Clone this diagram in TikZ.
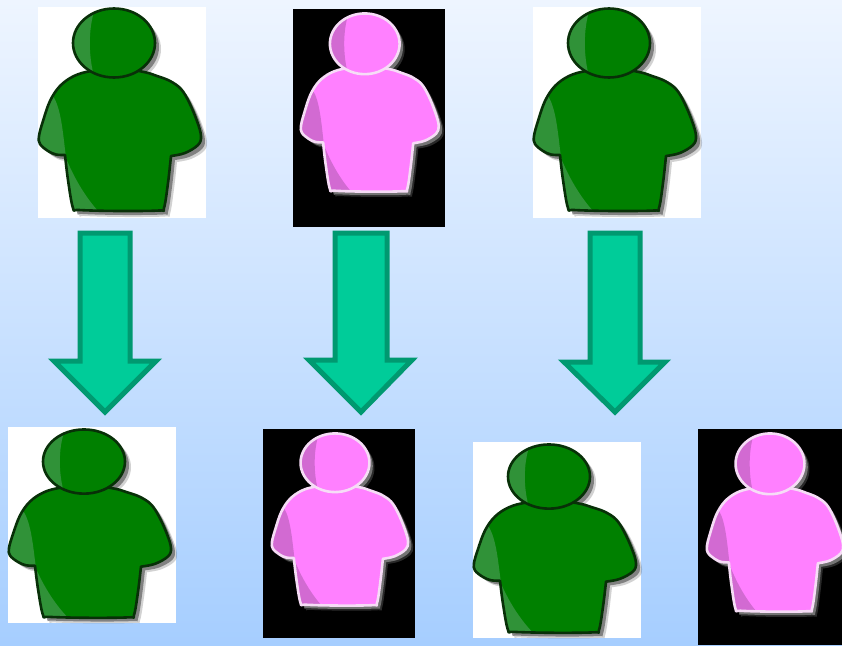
\documentclass[tikz,border=0pt]{standalone}
\usetikzlibrary{shadings}
\definecolor{bgtop}{RGB}{238,245,255}
\definecolor{bgbot}{RGB}{166,206,255}
\definecolor{gbody}{RGB}{0,128,0}
\definecolor{glight}{RGB}{48,146,56}
\definecolor{gline}{RGB}{8,48,8}
\definecolor{pbody}{RGB}{255,128,255}
\definecolor{plight}{RGB}{210,106,210}
\definecolor{pline}{RGB}{246,220,246}
\definecolor{arrowfill}{RGB}{0,204,153}
\definecolor{arrowline}{RGB}{0,153,112}
\tikzset{
  x=1pt,y=-1pt,
  whitebox/.style={fill=white,draw=none,inner sep=0pt,outer sep=0pt,anchor=north west},
  blackbox/.style={fill=black,draw=none,inner sep=0pt,outer sep=0pt,anchor=north west},
  downarrow/.style={fill=arrowfill,draw=arrowline,line width=5pt,miter limit=10},
}
\newcommand{\bodypath}{
  plot[smooth,tension=.6] coordinates {(26,147) (29,172) (34,200) (40,202) (80,203) (120,202.5) (125,200) (129,175) (132,148)}
  -- plot[smooth,tension=.6] coordinates {(132,148) (146,145) (159,137) (162,128) (158,113) (150,94) (142,81) (131,73) (118,68) (105,64) (78,60)
  (52,63) (35,68) (21,78) (11,93) (4,113) (0,128) (1,136) (9,143) (17,146.5) (26,147)} -- cycle}
\newcommand{\headpath}{(75,35) ellipse [x radius=41,y radius=34.5]}
% #1,#2 origin; #3,#4 scale; #5 body; #6 light; #7 outline; #8 shadow
\newcommand{\person}[8]{
  \begin{scope}[shift={(#1,#2)},xscale=#3,yscale=#4]
    \fill[#8,opacity=.25] [shift={(6,6)}] \bodypath;
    \fill[#8,opacity=.25] [shift={(6,6)}] \headpath;
    \fill[#8,opacity=.6] [shift={(4,4)}] \bodypath;
    \fill[#8,opacity=.6] [shift={(4,4)}] \headpath;
    \fill[#5] \bodypath;
    \begin{scope}
      \clip \bodypath;
      \fill[#6] (-2,75) -- (14,88) .. controls (22,100) and (24,125) .. (27,150) -- (-2,150) -- cycle;
      \fill[#6] (27,150) .. controls (35,170) and (47,190) .. (60,204) -- (30,206) -- cycle;
    \end{scope}
    \draw[#7,line width=2.6pt,line join=round] \bodypath;
    \fill[#5] \headpath;
    \begin{scope}
      \clip \headpath;
      \fill[#6] (57,-2) .. controls (50,15) and (48,45) .. (56,72) -- (30,72) -- (30,-2) -- cycle;
    \end{scope}
    \draw[#7,line width=2.6pt] \headpath;
  \end{scope}
}
\newcommand{\greenperson}[3]{\person{#1}{#2}{1}{#3}{gbody}{glight}{gline}{black!70}}
\newcommand{\pinkperson}[4]{\person{#1}{#2}{#3}{#4}{pbody}{plight}{pline}{white!65!black}}
\begin{document}
\begin{tikzpicture}
  \useasboundingbox (0,0) rectangle (842,645);
  \shade[top color=bgtop,bottom color=bgbot] (0,0) rectangle (842,645);

  \node[whitebox,minimum width=168pt,minimum height=211pt] (top1) at (38,7) {};
  \node[blackbox,minimum width=152pt,minimum height=218pt] (top2) at (293,9) {};
  \node[whitebox,minimum width=168pt,minimum height=211pt] (top3) at (533,7) {};
  \node[whitebox,minimum width=168pt,minimum height=196pt] (bot1) at (8,427) {};
  \node[blackbox,minimum width=152pt,minimum height=209pt] (bot2) at (263,429) {};
  \node[whitebox,minimum width=168pt,minimum height=196pt] (bot3) at (473,442) {};
  \node[blackbox,minimum width=144pt,minimum height=216pt] (bot4) at (698,429) {};

  \greenperson{39}{8}{1}
  \pinkperson{301}{13}{.85}{.88}
  \greenperson{534}{8}{1}
  \greenperson{9}{429}{.93}
  \pinkperson{272}{433}{.84}{.85}
  \greenperson{474}{444}{.93}
  \pinkperson{707}{433}{.84}{.88}

  \draw[downarrow] (80,233) -- (130,233) -- (130,361) -- (156,361) -- (105,412) -- (54,361) -- (80,361) -- cycle;
  \draw[downarrow] (335,233) -- (387,233) -- (387,360) -- (412,360) -- (361,412) -- (309,360) -- (335,360) -- cycle;
  \draw[downarrow] (590,233) -- (640,233) -- (640,362) -- (665,362) -- (615,412) -- (564,362) -- (590,362) -- cycle;
\end{tikzpicture}
\end{document}
